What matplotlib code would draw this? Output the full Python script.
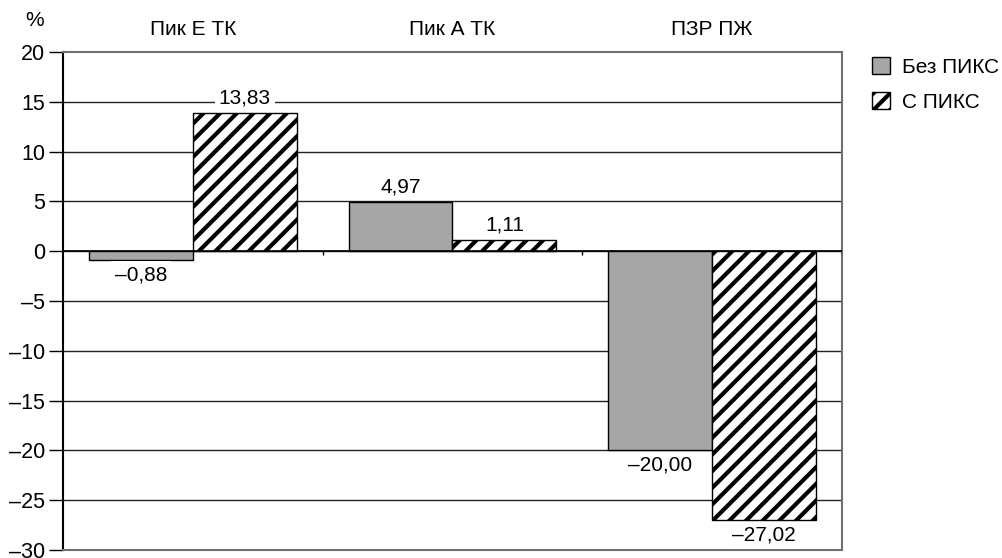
import matplotlib.pyplot as plt
import numpy as np

plt.rcParams['font.family'] = ['Liberation Sans', 'DejaVu Sans']
plt.rcParams['hatch.linewidth'] = 3.0

categories = ['Пик Е ТК', 'Пик А ТК', 'ПЗР ПЖ']
bez_piks = [-0.88, 4.97, -20.00]
s_piks = [13.83, 1.11, -27.02]
series_names = ['Без ПИКС', 'С ПИКС']
y_ticks = [20, 15, 10, 5, 0, -5, -10, -15, -20, -25, -30]


def fmt(v, dec=2):
    s = f'{abs(v):.{dec}f}'.replace('.', ',')
    return ('–' + s) if v < 0 else s


fig = plt.figure(figsize=(10.03, 5.58), dpi=100)
ax = fig.add_axes([63 / 1003, 8 / 558, (842 - 63) / 1003, (550 - 52) / 558])

x = np.arange(len(categories))
w = 0.4
b1 = ax.bar(x - w / 2, bez_piks, w, color='#a6a6a6', edgecolor='black', linewidth=1, zorder=3)
b2 = ax.bar(x + w / 2, s_piks, w, color='white', edgecolor='black', hatch='//', linewidth=1, zorder=3)

# горизонтальные линии сетки
for t in y_ticks[1:-1]:
    ax.axhline(t, color='#222222', linewidth=1, zorder=1)
ax.axhline(0, color='black', linewidth=1.2, zorder=4)
ax.vlines([0.5, 1.5, 2.5], -0.35, 0, color='black', linewidth=1, zorder=4)

for bars, vals in ((b1, bez_piks), (b2, s_piks)):
    for r, v in zip(bars, vals):
        off = 4 if v >= 0 else -4
        ax.annotate(fmt(v), (r.get_x() + r.get_width() / 2, v),
                    xytext=(0, off), textcoords='offset points',
                    ha='center', va='bottom' if v >= 0 else 'top', fontsize=15,
                    bbox=dict(boxstyle='square,pad=0.2', fc='white', ec='none'), zorder=5)

ax.set_xlim(-0.5, 2.5)
ax.set_ylim(-30, 20)
ax.set_xticks([])
ax.set_yticks(y_ticks)
ax.set_yticklabels([fmt(t, 0) for t in y_ticks], fontsize=15.5)
ax.tick_params(axis='y', length=10, width=1, direction='out', pad=3)

for side in ('top', 'right', 'bottom'):
    ax.spines[side].set_color('#707070')
    ax.spines[side].set_linewidth(1.5)
ax.spines['left'].set_linewidth(1.5)

for i, c in enumerate(categories):
    ax.text(i, 1.045, c, transform=ax.get_xaxis_transform(), ha='center', va='center', fontsize=15)
fig.text(35 / 1003, 1 - 20 / 558, '%', ha='center', va='center', fontsize=15)

fig.legend([b1[0], b2[0]], series_names, loc='upper left',
           bbox_to_anchor=(872 / 1003, 1 - 57 / 558), frameon=False, fontsize=15,
           borderpad=0, borderaxespad=0,
           handlelength=0.85, handleheight=0.85, handletextpad=0.6, labelspacing=0.75)

fig.savefig('out.png', dpi=100)
